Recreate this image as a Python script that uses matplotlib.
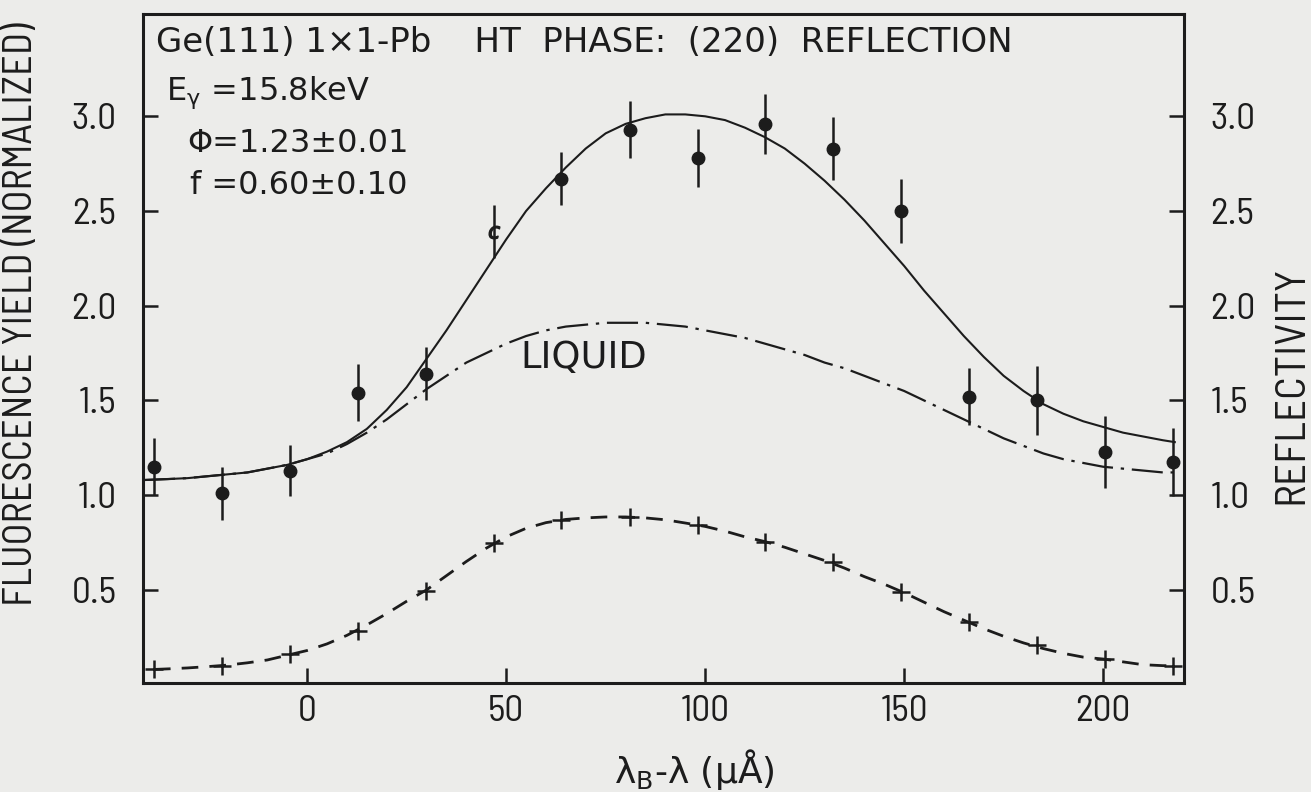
import matplotlib
matplotlib.use("Agg")
import matplotlib.pyplot as plt

# ---- data ----
x_pts = [-38.5, -21.4, -4.4, 12.7, 29.8, 46.9, 63.9, 81.0, 98.1, 115.1,
         132.2, 149.3, 166.3, 183.4, 200.5, 217.5]
fluor_y = [1.15, 1.01, 1.13, 1.54, 1.64, 2.39, 2.67, 2.93, 2.78, 2.96,
           2.83, 2.50, 1.52, 1.50, 1.23, 1.175]
fluor_err = [0.15, 0.14, 0.135, 0.15, 0.14, 0.14, 0.14, 0.15, 0.155, 0.16,
             0.165, 0.17, 0.15, 0.18, 0.19, 0.18]
refl_y = [0.08, 0.10, 0.16, 0.285, 0.495, 0.745, 0.87, 0.885, 0.84, 0.755,
          0.645, 0.49, 0.33, 0.21, 0.135, 0.10]

curve_x = [-41, -35, -30, -25, -20, -15, -10, -5, 0, 5, 10, 15, 20, 25, 30,
           35, 40, 45, 50, 55, 60, 65, 70, 75, 80, 85, 90, 95, 100, 105, 110,
           115, 120, 125, 130, 135, 140, 145, 150, 155, 160, 165, 170, 175,
           180, 185, 190, 195, 200, 205, 210, 215, 218]
fit_y = [1.08, 1.085, 1.09, 1.10, 1.11, 1.12, 1.14, 1.16, 1.19, 1.23, 1.28,
         1.35, 1.45, 1.57, 1.72, 1.87, 2.03, 2.19, 2.35, 2.50, 2.62, 2.73,
         2.83, 2.91, 2.96, 2.99, 3.01, 3.01, 3.00, 2.98, 2.94, 2.89, 2.83,
         2.75, 2.66, 2.56, 2.45, 2.33, 2.21, 2.08, 1.96, 1.84, 1.73, 1.63,
         1.55, 1.48, 1.43, 1.39, 1.36, 1.33, 1.31, 1.29, 1.28]
liquid_y = [1.08, 1.085, 1.09, 1.10, 1.11, 1.12, 1.14, 1.16, 1.19, 1.22,
            1.27, 1.33, 1.40, 1.48, 1.56, 1.63, 1.70, 1.75, 1.80, 1.84, 1.87,
            1.89, 1.90, 1.91, 1.91, 1.91, 1.90, 1.89, 1.87, 1.85, 1.83, 1.80,
            1.77, 1.74, 1.70, 1.67, 1.63, 1.59, 1.55, 1.50, 1.45, 1.40, 1.35,
            1.30, 1.26, 1.22, 1.19, 1.17, 1.15, 1.14, 1.13, 1.12, 1.12]

refl_curve_x = [-38.5, -35, -30, -25, -20, -15, -10, -5, 0, 5, 10, 15, 20,
                25, 30, 35, 40, 45, 50, 55, 60, 65, 70, 75, 80, 85, 90, 95,
                100, 105, 110, 115, 120, 125, 130, 135, 140, 145, 150, 155,
                160, 165, 170, 175, 180, 185, 190, 195, 200, 205, 210, 215,
                217.5]
refl_curve_y = [0.08, 0.083, 0.088, 0.095, 0.103, 0.115, 0.13, 0.155, 0.18,
                0.215, 0.26, 0.315, 0.375, 0.44, 0.50, 0.575, 0.65, 0.72,
                0.78, 0.825, 0.855, 0.872, 0.88, 0.885, 0.885, 0.88, 0.87,
                0.853, 0.835, 0.81, 0.78, 0.755, 0.725, 0.69, 0.655, 0.615,
                0.57, 0.53, 0.485, 0.435, 0.385, 0.34, 0.295, 0.255, 0.22,
                0.19, 0.165, 0.145, 0.135, 0.12, 0.105, 0.10, 0.10]

x_ticks = [0, 50, 100, 150, 200]
y_ticks = [0.5, 1.0, 1.5, 2.0, 2.5, 3.0]
y_ticklabels = ["0.5", "1.0", "1.5", "2.0", "2.5", "3.0"]

title = "Ge(111) 1×1-Pb    HT  PHASE:  (220)  REFLECTION"

# ---- style ----
BG = "#ececea"
INK = "#1c1c1c"
SANS = ["DejaVu Sans"]
COND = ["Barlow Semi Condensed", "DejaVu Sans"]
plt.rcParams["font.family"] = SANS
plt.rcParams["mathtext.fontset"] = "dejavusans"

fig = plt.figure(figsize=(13.11, 7.92), dpi=100, facecolor=BG)
ax = fig.add_axes([0.1089, 0.138, 0.9031 - 0.1089, 0.9823 - 0.138])
ax.set_facecolor(BG)

ax.plot(curve_x, fit_y, color=INK, lw=1.5)
ax.plot(curve_x, liquid_y, color=INK, lw=1.6, linestyle=(0, (14, 3.5, 1.5, 3.5)))
ax.plot(refl_curve_x, refl_curve_y, color=INK, lw=2.0, linestyle=(0, (6, 4)))
ax.plot(x_pts, refl_y, linestyle="none", marker="+", ms=13, mew=1.8, color=INK)

normal = [i for i in range(len(x_pts)) if i != 5]
ax.errorbar([x_pts[i] for i in normal], [fluor_y[i] for i in normal],
            yerr=[fluor_err[i] for i in normal], fmt="o", ms=9, color=INK,
            elinewidth=1.8, capsize=0)
ax.errorbar([x_pts[5]], [fluor_y[5]], yerr=[fluor_err[5]], fmt="none",
            color=INK, elinewidth=1.8, capsize=0)
ax.plot([x_pts[5]], [fluor_y[5]], linestyle="none", marker="$c$", ms=9, color=INK)

ax.set_xlim(-41.3, 220.3)
ax.set_ylim(0.01, 3.54)
ax.set_xticks(x_ticks)
ax.set_yticks(y_ticks)
ax.set_yticklabels(y_ticklabels)
for s in ax.spines.values():
    s.set_linewidth(2.2)
    s.set_color(INK)
ax.tick_params(direction="in", length=11, width=1.8, colors=INK, labelsize=27)
ax.tick_params(axis="y", pad=19)
ax.tick_params(axis="x", pad=9)

ax2 = ax.twinx()
ax2.set_ylim(ax.get_ylim())
ax2.set_yticks(y_ticks)
ax2.set_yticklabels(y_ticklabels)
ax2.tick_params(direction="in", length=11, width=1.8, colors=INK,
                labelsize=27, pad=19)
for s in ax2.spines.values():
    s.set_visible(False)
for lab in ax.get_xticklabels() + ax.get_yticklabels() + ax2.get_yticklabels():
    lab.set_family(COND)

fig.text(156 / 1311, 1 - 43 / 792, title, fontsize=24.5, color=INK,
         va="center", ha="left")
fig.text(166 / 1311, 1 - 93 / 792, r"E$_{\mathrm{γ}}$ =15.8keV",
         fontsize=23, color=INK, va="center", ha="left")
fig.text(187 / 1311, 1 - 143 / 792, "Φ=1.23±0.01",
         fontsize=23, color=INK, va="center", ha="left")
fig.text(190 / 1311, 1 - 186 / 792, "f =0.60±0.10",
         fontsize=23, color=INK, va="center", ha="left")
ax.text(69.6, 1.725, "LIQUID", fontsize=26.5, color=INK, va="center", ha="center")

fig.text(694 / 1311, 1 - 770 / 792, r"λ$_{\mathrm{B}}$-λ (μÅ)",
         fontsize=26, color=INK, va="center", ha="center")
fig.text(22 / 1311, 1 - 314 / 792, "FLUORESCENCE YIELD (NORMALIZED)",
         fontsize=29, color=INK, va="center", ha="center", rotation=90,
         family=COND)
fig.text(1292 / 1311, 1 - 385 / 792, "REFLECTIVITY",
         fontsize=31, color=INK, va="center", ha="center", rotation=90,
         family=COND)

fig.savefig("out.png", dpi=100, facecolor=BG)
